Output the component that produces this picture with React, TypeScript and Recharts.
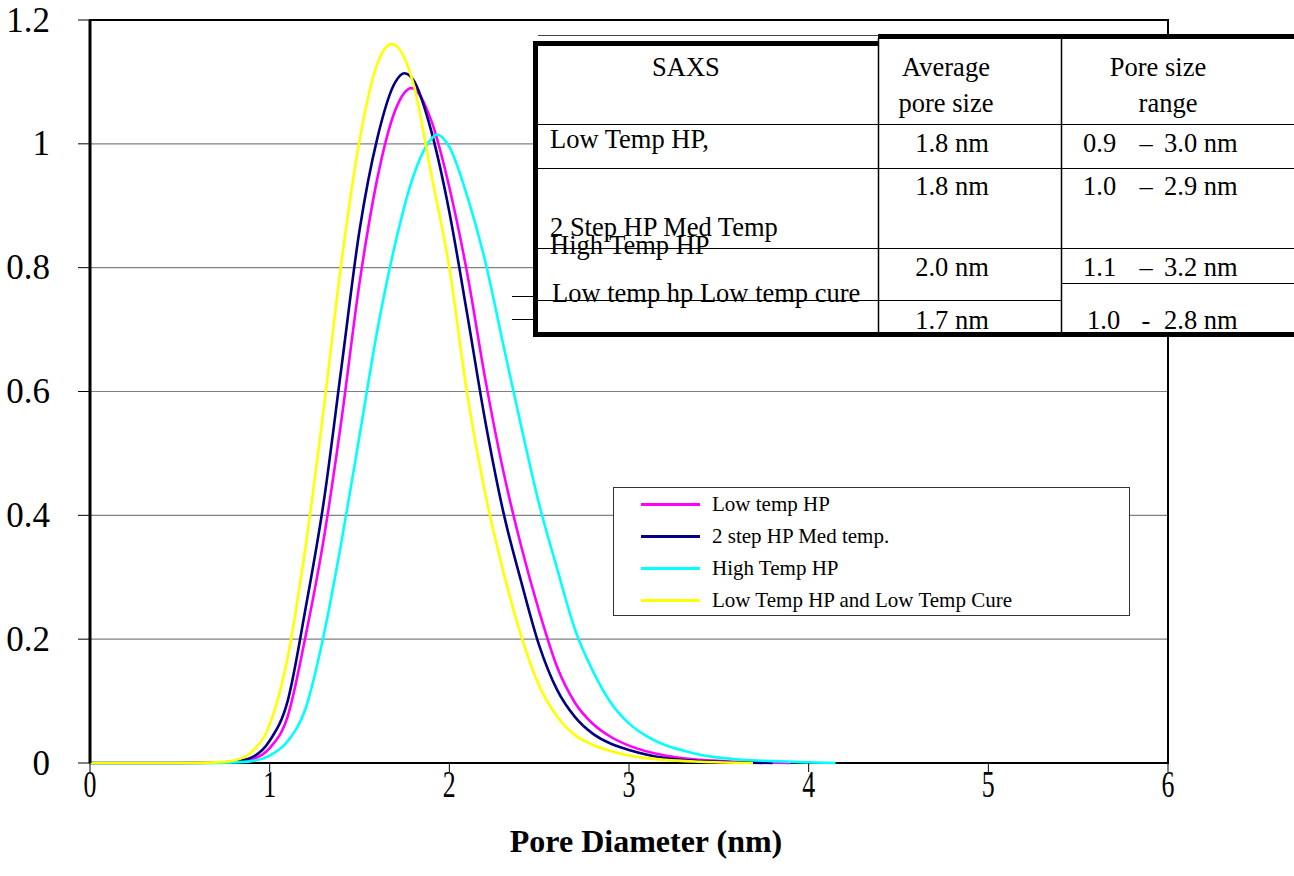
import React from 'react';
import { LineChart, Line, XAxis, YAxis, CartesianGrid, Legend, ReferenceArea } from 'recharts';

// [pore diameter (nm), distribution]
const lowTempHP = [
  [0, 0], [0.5, 0], [0.7, 0.001], [0.8, 0.002], [0.9, 0.006], [1.0, 0.024], [1.1, 0.075], [1.2, 0.205],
  [1.3, 0.36], [1.4, 0.555], [1.5, 0.775], [1.6, 0.945], [1.7, 1.055], [1.79, 1.09], [1.9, 1.037],
  [2.0, 0.93], [2.1, 0.79], [2.2, 0.62], [2.3, 0.472], [2.4, 0.35], [2.5, 0.245], [2.6, 0.155],
  [2.7, 0.097], [2.8, 0.063], [2.9, 0.042], [3.0, 0.028], [3.2, 0.012], [3.4, 0.005], [3.6, 0.002], [3.9, 0],
];
const twoStepHP = [
  [0, 0], [0.5, 0], [0.7, 0.0005], [0.8, 0.002], [0.9, 0.009], [1.0, 0.036], [1.1, 0.1], [1.2, 0.25],
  [1.3, 0.42], [1.4, 0.64], [1.5, 0.86], [1.6, 1.01], [1.7, 1.1], [1.75, 1.114], [1.8, 1.103],
  [1.9, 1.02], [2.0, 0.89], [2.1, 0.724], [2.2, 0.552], [2.3, 0.406], [2.4, 0.293], [2.5, 0.19],
  [2.6, 0.118], [2.7, 0.074], [2.8, 0.047], [2.9, 0.031], [3.0, 0.021], [3.2, 0.008], [3.4, 0.003], [3.6, 0.001], [3.8, 0],
];
const highTempHP = [
  [0, 0], [0.6, 0], [0.8, 0.001], [0.9, 0.003], [1.0, 0.012], [1.1, 0.035], [1.2, 0.088], [1.3, 0.205],
  [1.4, 0.358], [1.5, 0.528], [1.6, 0.7], [1.7, 0.84], [1.8, 0.948], [1.9, 1.008], [1.93, 1.015],
  [2.0, 0.995], [2.1, 0.915], [2.2, 0.81], [2.3, 0.676], [2.4, 0.544], [2.5, 0.418], [2.6, 0.314],
  [2.7, 0.215], [2.8, 0.148], [2.9, 0.097], [3.0, 0.064], [3.1, 0.043], [3.2, 0.029], [3.3, 0.02],
  [3.4, 0.013], [3.6, 0.006], [3.8, 0.003], [4.0, 0.001], [4.15, 0],
];
const lowTempCure = [
  [0, 0], [0.5, 0], [0.7, 0.001], [0.8, 0.004], [0.9, 0.018], [1.0, 0.062], [1.1, 0.17], [1.2, 0.35],
  [1.3, 0.57], [1.4, 0.81], [1.5, 1.005], [1.6, 1.13], [1.68, 1.161], [1.8, 1.097], [1.9, 0.95],
  [2.0, 0.8], [2.1, 0.595], [2.2, 0.435], [2.3, 0.31], [2.4, 0.205], [2.5, 0.125], [2.6, 0.075],
  [2.7, 0.045], [2.8, 0.029], [2.9, 0.019], [3.0, 0.012], [3.2, 0.005], [3.4, 0.002], [3.69, 0],
];

const xTicks = [0, 1, 2, 3, 4, 5, 6];
const yTicks = [0, 0.2, 0.4, 0.6, 0.8, 1, 1.2];

// SAXS summary table
const tableHeader = ['SAXS'];
const avgHeader = ['Average', 'pore size'];
const rangeHeader = ['Pore size', 'range'];
const sampleNames = ['Low Temp HP,', '2 Step HP Med Temp', 'High Temp HP', 'Low temp hp Low temp cure'];
const avgSizes = ['1.8 nm', '1.8 nm', '2.0 nm', '1.7 nm'];
const rangeLow = ['0.9', '1.0', '1.1', '1.0'];
const rangeDash = ['–', '–', '–', '-'];
const rangeHigh = ['3.0 nm', '2.9 nm', '3.2 nm', '2.8 nm'];

const series = [
  { name: 'Low temp HP', color: '#FF00FF', data: lowTempHP },
  { name: '2 step HP Med temp.', color: '#000080', data: twoStepHP },
  { name: 'High Temp HP', color: '#00FFFF', data: highTempHP },
  { name: 'Low Temp HP and Low Temp Cure', color: '#FFFF00', data: lowTempCure },
];

const FONT = '"Liberation Serif", "Times New Roman", serif';

const toPoints = (arr: number[][]) => arr.map(([x, y]) => ({ x, y }));

const YTick = ({ x, y, payload }: any) => (
  <text x={x} y={y} textAnchor="end" dominantBaseline="central" fontFamily={FONT} fontSize={35} fill="#000">
    {payload.value}
  </text>
);

const XTick = ({ x, y, payload }: any) => (
  <text transform={`translate(${x},${y + 23}) scale(0.7,1)`} textAnchor="middle" fontFamily={FONT} fontSize={37} fill="#000">
    {payload.value}
  </text>
);

const LegendBox = () => (
  <div style={{ width: 515, height: 127, border: '1px solid #333', background: '#fff', fontFamily: FONT, position: 'relative' }}>
    {series.map((s, i) => (
      <div key={s.name} style={{ position: 'absolute', left: 0, top: 5 + i * 32, height: 22, display: 'flex', alignItems: 'center' }}>
        <div style={{ width: 59, height: 3, background: s.color, marginLeft: 27, marginRight: 12 }} />
        <span style={{ fontSize: 21, color: '#000', whiteSpace: 'nowrap' }}>{s.name}</span>
      </div>
    ))}
  </div>
);

const txt = { fontFamily: FONT, fontSize: 26.5, fill: '#000' };

const SaxsTable = () => {
  const rowBase = [152, 195, 276, 329];
  return (
    <svg width={1294} height={876} style={{ position: 'absolute', left: 0, top: 0, pointerEvents: 'none' }}>
      <rect x={535} y={36} width={759} height={299} fill="#fff" />
      <line x1={538} y1={35.5} x2={878} y2={35.5} stroke="#444" strokeWidth={1} />
      <line x1={1168} y1={20} x2={1168} y2={36} stroke="#000" strokeWidth={2} />
      <rect x={533} y={41} width={345} height={5} fill="#000" />
      <rect x={878} y={34} width={416} height={5} fill="#000" />
      <rect x={533} y={41} width={5} height={296} fill="#000" />
      <rect x={533} y={332} width={761} height={5} fill="#000" />
      <line x1={878.5} y1={38} x2={878.5} y2={334} stroke="#000" strokeWidth={1.5} />
      <line x1={1061.5} y1={38} x2={1061.5} y2={334} stroke="#000" strokeWidth={1.5} />
      <line x1={538} y1={124.5} x2={1294} y2={124.5} stroke="#000" strokeWidth={1.2} />
      <line x1={538} y1={168.5} x2={1294} y2={168.5} stroke="#000" strokeWidth={1.2} />
      <line x1={538} y1={248.5} x2={1294} y2={248.5} stroke="#000" strokeWidth={1.2} />
      <line x1={1061} y1={283.5} x2={1294} y2={283.5} stroke="#000" strokeWidth={1.2} />
      <line x1={538} y1={300.5} x2={1061} y2={300.5} stroke="#000" strokeWidth={1.2} />
      <line x1={512} y1={296.5} x2={533} y2={296.5} stroke="#000" strokeWidth={1} />
      <line x1={512} y1={319.5} x2={533} y2={319.5} stroke="#000" strokeWidth={1} />

      <text x={686} y={76} textAnchor="middle" {...txt}>{tableHeader[0]}</text>
      {avgHeader.map((t, i) => (
        <text key={t} x={946} y={76 + i * 36} textAnchor="middle" {...txt}>{t}</text>
      ))}
      {rangeHeader.map((t, i) => (
        <text key={t} x={1158 + i * 10} y={76 + i * 36} textAnchor="middle" {...txt}>{t}</text>
      ))}

      <text x={550} y={148} {...txt}>{sampleNames[0]}</text>
      <text x={550} y={236} {...txt}>{sampleNames[1]}</text>
      <text x={550} y={254} {...txt}>{sampleNames[2]}</text>
      <text x={552} y={302} {...txt}>{sampleNames[3]}</text>

      {avgSizes.map((t, i) => (
        <text key={i} x={952} y={rowBase[i]} textAnchor="middle" {...txt}>{t}</text>
      ))}
      {rangeLow.map((t, i) => (
        <g key={i}>
          <text x={i === 3 ? 1087 : 1083} y={rowBase[i]} {...txt}>{t}</text>
          <text x={1146} y={rowBase[i]} textAnchor="middle" {...txt}>{rangeDash[i]}</text>
          <text x={1164} y={rowBase[i]} {...txt}>{rangeHigh[i]}</text>
        </g>
      ))}
    </svg>
  );
};

export default function App() {
  return (
    <div style={{ position: 'absolute', left: 0, top: 0, width: 1294, height: 876, background: '#fff' }}>
      <LineChart width={1294} height={876} margin={{ top: 20, right: 126, bottom: 0, left: 0 }}>
        <CartesianGrid horizontal vertical={false} stroke="#808080" strokeWidth={1.2} />
        <ReferenceArea x1={0} x2={6} y1={0} y2={1.2} fill="none" stroke="#000" strokeWidth={2} />
        <XAxis
          type="number"
          dataKey="x"
          domain={[0, 6]}
          ticks={xTicks}
          allowDataOverflow
          height={113}
          tickSize={9}
          tickMargin={2}
          axisLine={false}
          tickLine={{ stroke: '#000' }}
          tick={<XTick />}
          label={{
            content: ({ viewBox }: any) => (
              <text x={viewBox.x + viewBox.width / 2 + 17} y={852} textAnchor="middle" fontFamily={FONT} fontSize={32} fontWeight="bold" fill="#000">
                Pore Diameter (nm)
              </text>
            ),
          }}
        />
        <YAxis
          type="number"
          domain={[0, 1.2]}
          ticks={yTicks}
          width={90}
          tickSize={12}
          tickMargin={28}
          axisLine={{ stroke: '#000', strokeWidth: 3 }}
          tickLine={{ stroke: '#000' }}
          tick={<YTick />}
        />
        {series.map((s) => (
          <Line
            key={s.name}
            name={s.name}
            data={toPoints(s.data)}
            dataKey="y"
            type="monotone"
            stroke={s.color}
            strokeWidth={2.6}
            dot={false}
            activeDot={false}
            isAnimationActive={false}
          />
        ))}
        <Legend
          layout="vertical"
          align="center"
          verticalAlign="middle"
          content={() => <LegendBox />}
          wrapperStyle={{ left: 613, top: 487, width: 517, height: 129, bottom: 'auto', right: 'auto' }}
        />
      </LineChart>
      <SaxsTable />
    </div>
  );
}
